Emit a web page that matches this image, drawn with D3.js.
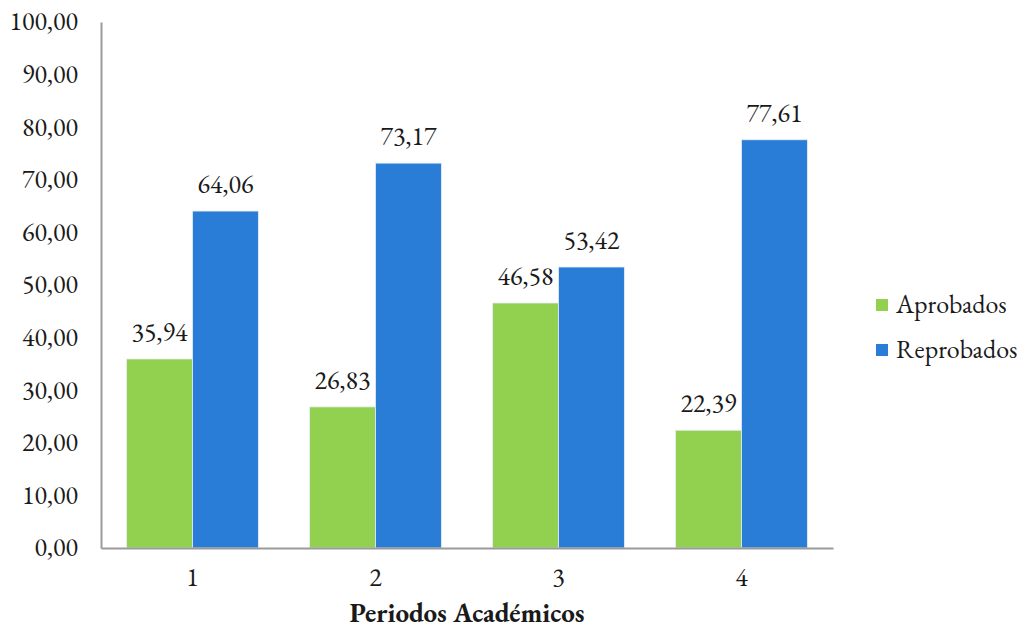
<!DOCTYPE html>
<html>
<head>
<meta charset="utf-8">
<script src="https://cdn.jsdelivr.net/npm/d3@7"></script>
<style>
  html, body { margin: 0; padding: 0; background: #fff; }
</style>
</head>
<body>
<svg id="chart" width="1026" height="630"></svg>
<script>
// Periods on the x axis
const periods = ["1", "2", "3", "4"];
// Series names and their values (percent)
const seriesNames = ["Aprobados", "Reprobados"];
const aprobados = [35.94, 26.83, 46.58, 22.39];
const reprobados = [64.06, 73.17, 53.42, 77.61];
// Y axis ticks
const yTicks = [0, 10, 20, 30, 40, 50, 60, 70, 80, 90, 100];
const xTitle = "Periodos Académicos";

const colors = { Aprobados: "#92D050", Reprobados: "#2A7DD7" };
const FONT = "\"EB Garamond\", \"Liberation Serif\", \"DejaVu Serif\", monospace";
const TEXT = "#1a1a1a";

const svg = d3.select("#chart");
const plot = { left: 101, right: 833, top: 22, bottom: 548 };

// Comma as decimal separator
const locale = d3.formatLocale({ decimal: ",", thousands: ".", grouping: [3], currency: ["", ""] });
const fmt = locale.format(".2f");

const x0 = d3.scaleBand()
  .domain(periods)
  .range([plot.left, plot.right])
  .paddingInner(0.28)
  .paddingOuter(0.14);

const x1 = d3.scaleBand()
  .domain(seriesNames)
  .range([0, x0.bandwidth()]);

const y = d3.scaleLinear()
  .domain([0, 100])
  .range([plot.bottom, plot.top]);

const rows = periods.map((p, i) => ({
  period: p,
  values: [
    { key: "Aprobados", value: aprobados[i] },
    { key: "Reprobados", value: reprobados[i] }
  ]
}));

function textStyle(sel, size) {
  sel.style("font-family", FONT)
    .style("font-size", size + "px")
    .style("fill", TEXT);
}

// Bars
const groups = svg.append("g").selectAll("g")
  .data(rows)
  .join("g")
  .attr("transform", d => `translate(${x0(d.period)},0)`);

groups.selectAll("rect")
  .data(d => d.values)
  .join("rect")
  .attr("x", d => x1(d.key))
  .attr("y", d => y(d.value))
  .attr("width", x1.bandwidth())
  .attr("height", d => y(0) - y(d.value))
  .attr("fill", d => colors[d.key])
  .attr("stroke", "#e8eef6")
  .attr("stroke-width", 0.8);

// Value labels
groups.selectAll("text")
  .data(d => d.values)
  .join("text")
  .attr("x", d => x1(d.key) + x1.bandwidth() / 2)
  .attr("y", d => y(d.value) - 18)
  .attr("text-anchor", "middle")
  .call(textStyle, 26)
  .text(d => fmt(d.value));

// Y axis
const yAxis = d3.axisLeft(y)
  .tickValues(yTicks)
  .tickFormat(fmt)
  .tickSize(0)
  .tickPadding(23);

const gy = svg.append("g")
  .attr("transform", `translate(${plot.left},0)`)
  .call(yAxis);
gy.attr("font-family", null).attr("font-size", null);
gy.select(".domain").attr("stroke", "#9a9a9a").attr("stroke-width", 2);
gy.selectAll("text")
  .call(textStyle, 26)
  .attr("dy", "0.3em");

// X axis
const xAxis = d3.axisBottom(x0).tickSize(0).tickPadding(20);
const gx = svg.append("g")
  .attr("transform", `translate(0,${plot.bottom})`)
  .call(xAxis);
gx.attr("font-family", null).attr("font-size", null);
gx.select(".domain").attr("stroke", "#9a9a9a").attr("stroke-width", 2);
gx.selectAll("text")
  .call(textStyle, 26)
  .attr("dy", "0.71em");

// X axis title
svg.append("text")
  .attr("x", (plot.left + plot.right) / 2)
  .attr("y", 622)
  .attr("text-anchor", "middle")
  .call(textStyle, 27)
  .style("font-weight", "bold")
  .text(xTitle);

// Legend
const legend = svg.append("g")
  .selectAll("g")
  .data(seriesNames)
  .join("g")
  .attr("transform", (d, i) => `translate(876,${299 + i * 45})`);

legend.append("rect")
  .attr("width", 12)
  .attr("height", 12)
  .attr("fill", d => colors[d]);

legend.append("text")
  .attr("x", 20)
  .attr("y", 14)
  .call(textStyle, 26)
  .text(d => d);
</script>
</body>
</html>
